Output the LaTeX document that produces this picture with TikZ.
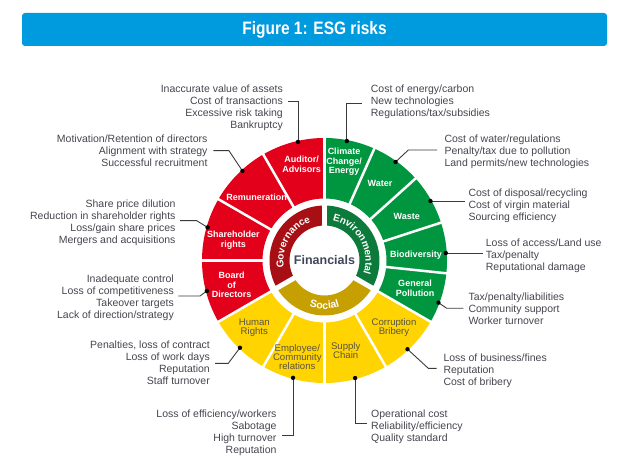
\documentclass[tikz,border=0pt]{standalone}
\usepackage{fontspec}
\setmainfont{Liberation Sans}
\usepackage{graphicx}
\usetikzlibrary{decorations.text}
\definecolor{esgred}{HTML}{E2001A}
\definecolor{esggreen}{HTML}{009640}
\definecolor{esgyellow}{HTML}{FFD400}
\definecolor{govred}{HTML}{A80F14}
\definecolor{envgreen}{HTML}{0B7A3B}
\definecolor{socgold}{HTML}{C6A000}
\definecolor{esgblue}{HTML}{009ADE}
\definecolor{labgrey}{HTML}{45454F}
\definecolor{ytext}{HTML}{5A5444}
\definecolor{fincol}{HTML}{3E4758}
\definecolor{leadgrey}{HTML}{3A3A3A}
\begin{document}
\begin{tikzpicture}[x=1pt,y=1pt,
  lab/.style={font=\fontsize{10.5}{12}\selectfont, text=labgrey, inner sep=0pt},
  labl/.style={lab, align=left, anchor=north west},
  labr/.style={lab, align=right, anchor=north east},
  sect/.style={font=\fontsize{9}{9.6}\selectfont\bfseries, text=white, align=center, inner sep=0pt},
  secty/.style={font=\fontsize{9.6}{9.4}\selectfont, text=ytext, align=center, inner sep=0pt},
  leader/.style={draw=leadgrey, line width=0.9pt},
  sepline/.style={draw=white, line width=2.5pt},
  bandsep/.style={draw=white, line width=5pt},
  titlebar/.style={fill=esgblue, rounded corners=3pt, minimum width=585pt, minimum height=33pt, inner sep=0pt, text=white}
]
\useasboundingbox (0,0) rectangle (620,463);

% title
\node[titlebar] (title) at (314.5,433.5) {\scalebox{0.86}[1]{\bfseries\fontsize{18}{18}\selectfont Figure 1: ESG risks}};

\begin{scope}[shift={(324.5,202.5)}]
  % outer ring
  \fill[esgred] (90:62) -- (90:122.5) arc[start angle=90,end angle=210,radius=122.5] -- (210:62) arc[start angle=210,end angle=90,radius=62] -- cycle;
  \fill[esggreen] (-30:62) -- (-30:122.5) arc[start angle=-30,end angle=90,radius=122.5] -- (90:62) arc[start angle=90,end angle=-30,radius=62] -- cycle;
  \fill[esgyellow] (210:62) -- (210:122.5) arc[start angle=210,end angle=330,radius=122.5] -- (330:62) arc[start angle=330,end angle=210,radius=62] -- cycle;
  \foreach \a in {90,120,150,180,210,240,270,300,330,66,42,18,-6}
    \draw[sepline] (\a:60) -- (\a:124);
  % inner band
  \fill[govred] (90:35) -- (90:55) arc[start angle=90,end angle=210,radius=55] -- (210:35) arc[start angle=210,end angle=90,radius=35] -- cycle;
  \fill[envgreen] (-30:35) -- (-30:55) arc[start angle=-30,end angle=90,radius=55] -- (90:35) arc[start angle=90,end angle=-30,radius=35] -- cycle;
  \fill[socgold] (210:35) -- (210:55) arc[start angle=210,end angle=330,radius=55] -- (330:35) arc[start angle=330,end angle=210,radius=35] -- cycle;
  \foreach \a in {90,210,330}
    \draw[bandsep] (\a:33) -- (\a:57);
  % curved band labels
  \path[decorate, decoration={text along path, text align=center, text color=white,
     text={|\bfseries\fontsize{10}{12}\selectfont|Governance}}]
     (205:41) arc[start angle=205,end angle=95,radius=41];
  \path[decorate, decoration={text along path, text align=center, text color=white,
     text={|\bfseries\fontsize{10}{12}\selectfont|Environmental}}]
     (89:41) arc[start angle=89,end angle=-29,radius=41];
  \path[decorate, decoration={text along path, text align=center, text color=white,
     text={|\bfseries\fontsize{10.5}{12}\selectfont|Social}}]
     (225:48.5) arc[start angle=225,end angle=315,radius=48.5];
  \node[font=\bfseries\fontsize{12.5}{14}\selectfont, text=fincol] (fin) at (0,0) {Financials};
  % leader dots
  \coordinate (d1) at (102.6:121.5);
  \coordinate (d2) at (79.4:121.5);
  \coordinate (d3) at (54.2:121.5);
  \coordinate (d4) at (29.3:121.5);
  \coordinate (d5) at (3.5:121.5);
  \coordinate (d6) at (-20.3:121.5);
  \coordinate (d7) at (-46.9:121.5);
  \coordinate (d8) at (-75.4:121.5);
  \coordinate (d9) at (255:121.5);
  \coordinate (d10) at (225.9:121.5);
  \coordinate (d11) at (194.5:121.5);
  \coordinate (d12) at (164.2:121.5);
  \coordinate (d13) at (132.5:121.5);
\end{scope}

% sector labels
\node[sect] (sAud) at (301.7,299) {Auditor/\\Advisors};
\node[sect] (sCli) at (344,301.3) {Climate\\Change/\\Energy};
\node[sect] (sWat) at (380,279.7) {Water};
\node[sect] (sWas) at (406.7,247) {Waste};
\node[sect] (sBio) at (416,208) {Biodiversity};
\node[sect] (sGen) at (415,174.7) {General\\Pollution};
\node[secty] (sCor) at (394,135.5) {Corruption\\Bribery};
\node[secty] (sSup) at (345.7,112.5) {Supply\\Chain};
\node[secty] (sEmp) at (297.3,106) {Employee/\\Community\\relations};
\node[secty] (sHum) at (254.3,135.2) {Human\\Rights};
\node[sect] (sBoa) at (231.7,178) {Board\\of\\Directors};
\node[sect] (sSha) at (233.3,223) {Shareholder\\rights};
\node[sect] (sRem) at (256.7,265.7) {Remuneration};

% outer text blocks
\node[labr] (tAud) at (283,378) {Inaccurate value of assets\\Cost of transactions\\Excessive risk taking\\Bankruptcy};
\node[labl] (tCli) at (370.7,378.7) {Cost of energy/carbon\\New technologies\\Regulations/tax/subsidies};
\node[labl] (tWat) at (444.3,328) {Cost of water/regulations\\Penalty/tax due to pollution\\Land permits/new technologies};
\node[labl] (tWas) at (468.3,274) {Cost of disposal/recycling\\Cost of virgin material\\Sourcing efficiency};
\node[labl] (tBio) at (485.7,224.3) {Loss of access/Land use\\Tax/penalty\\Reputational damage};
\node[labl] (tGen) at (468.3,170.3) {Tax/penalty/liabilities\\Community support\\Worker turnover};
\node[labl] (tCor) at (443.3,109) {Loss of business/fines\\Reputation\\Cost of bribery};
\node[labl] (tSup) at (371,53.7) {Operational cost\\Reliability/efficiency\\Quality standard};
\node[labr] (tEmp) at (276.7,53.7) {Loss of efficiency/workers\\Sabotage\\High turnover\\Reputation};
\node[labr] (tHum) at (210,122) {Penalties, loss of contract\\Loss of work days\\Reputation\\Staff turnover};
\node[labr] (tBoa) at (174,188.7) {Inadequate control\\Loss of competitiveness\\Takeover targets\\Lack of direction/strategy};
\node[labr] (tSha) at (175.7,263.7) {Share price dilution\\Reduction in shareholder rights\\Loss/gain share prices\\Mergers and acquisitions};
\node[labr] (tRem) at (207.7,328.7) {Motivation/Retention of directors\\Alignment with strategy\\Successful recruitment};

% leaders
\draw[leader] (d1) |- (288,362);
\draw[leader] (d2) |- (362,360);
\draw[leader] (d3) -- (408.3,313) -- (437,313);
\draw[leader] (d4) -- ++(34.5,0);
\draw[leader] (d5) -- ++(37,0);
\draw[leader] (d6) -- (446.7,154.7) -- (463.3,154.7);
\draw[leader] (d7) -- (428.3,94.7) -- (436.7,94.7);
\draw[leader] (d8) |- (366.7,39.7);
\draw[leader] (d9) |- (281.7,28);
\draw[leader] (d10) -- (228.3,99.7) -- (215,99.7);
\draw[leader] (d11) -- (200,167) -- (178.3,167);
\draw[leader] (d12) -- (196.7,242.3) -- (180,242.3);
\draw[leader] (d13) -- (229,312.3) -- (213.3,312.3);
\foreach \d in {d1,d2,d3,d4,d5,d6,d7,d8,d9,d10,d11,d12,d13}
  \fill[black] (\d) circle (2.2);
\end{tikzpicture}
\end{document}
